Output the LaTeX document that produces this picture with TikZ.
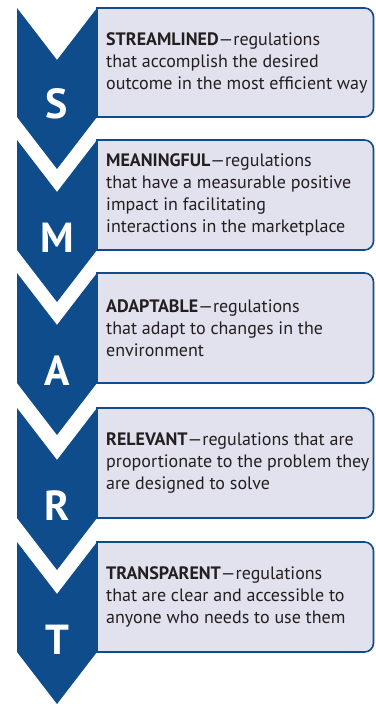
\documentclass[tikz,border=0pt]{standalone}
\usepackage{fontspec}
\setmainfont{PT Sans}
\definecolor{smartblue}{RGB}{14,76,140}
\definecolor{smartfill}{RGB}{226,226,238}
\definecolor{smarttext}{RGB}{35,31,32}
\tikzset{
  chevron/.style={fill=smartblue},
  descbox/.style={fill=smartfill, draw=smartblue, line width=1.6pt},
  desc/.style={anchor=west, align=left, text=smarttext, inner sep=0pt, font=\fontsize{18}{22}\selectfont},
  letter/.style={text=white, inner sep=0pt, font=\fontsize{42}{42}\selectfont\bfseries}
}

\begin{document}
\begin{tikzpicture}[x=1pt, y=-1pt]
        \useasboundingbox (0,0) rectangle (375,704);

        \draw[descbox] (97,8) [rounded corners=9pt] -- (373.5,8) -- (373.5,117) [sharp corners] -- (97,117) -- cycle;
        \fill[chevron] (17,8) -- (57,60) -- (97,8) -- (97,117) -- (57,169) -- (17,117) -- cycle;
        \node[letter] (S) at (57,104) {S};
        \node[desc] (streamlined) at (106,62.5) {\textbf{STREAMLINED}—regulations\\that accomplish the desired\\outcome in the most efficient way};

        \draw[descbox] (97,140) [rounded corners=9pt] -- (373.5,140) -- (373.5,250) [sharp corners] -- (97,250) -- cycle;
        \fill[chevron] (17,140) -- (57,192) -- (97,140) -- (97,250) -- (57,302) -- (17,250) -- cycle;
        \node[letter] (M) at (57,238) {M};
        \node[desc] (meaningful) at (106,195) {\textbf{MEANINGFUL}—regulations\\that have a measurable positive\\impact in facilitating\\interactions in the marketplace};

        \draw[descbox] (97,273) [rounded corners=9pt] -- (373.5,273) -- (373.5,383) [sharp corners] -- (97,383) -- cycle;
        \fill[chevron] (17,273) -- (57,325) -- (97,273) -- (97,383) -- (57,435) -- (17,383) -- cycle;
        \node[letter] (A) at (57,371) {A};
        \node[desc] (adaptable) at (106,328) {\textbf{ADAPTABLE}—regulations\\that adapt to changes in the\\environment};

        \draw[descbox] (97,408) [rounded corners=9pt] -- (373.5,408) -- (373.5,518) [sharp corners] -- (97,518) -- cycle;
        \fill[chevron] (17,408) -- (57,460) -- (97,408) -- (97,518) -- (57,570) -- (17,518) -- cycle;
        \node[letter] (R) at (57,506) {R};
        \node[desc] (relevant) at (106,463) {\textbf{RELEVANT}—regulations that are\\proportionate to the problem they\\are designed to solve};

        \draw[descbox] (97,542) [rounded corners=9pt] -- (373.5,542) -- (373.5,652) [sharp corners] -- (97,652) -- cycle;
        \fill[chevron] (17,542) -- (57,594) -- (97,542) -- (97,652) -- (57,704) -- (17,652) -- cycle;
        \node[letter] (T) at (57,640) {T};
        \node[desc] (transparent) at (106,597) {\textbf{TRANSPARENT}—regulations\\that are clear and accessible to\\anyone who needs to use them};
\end{tikzpicture}
\end{document}
